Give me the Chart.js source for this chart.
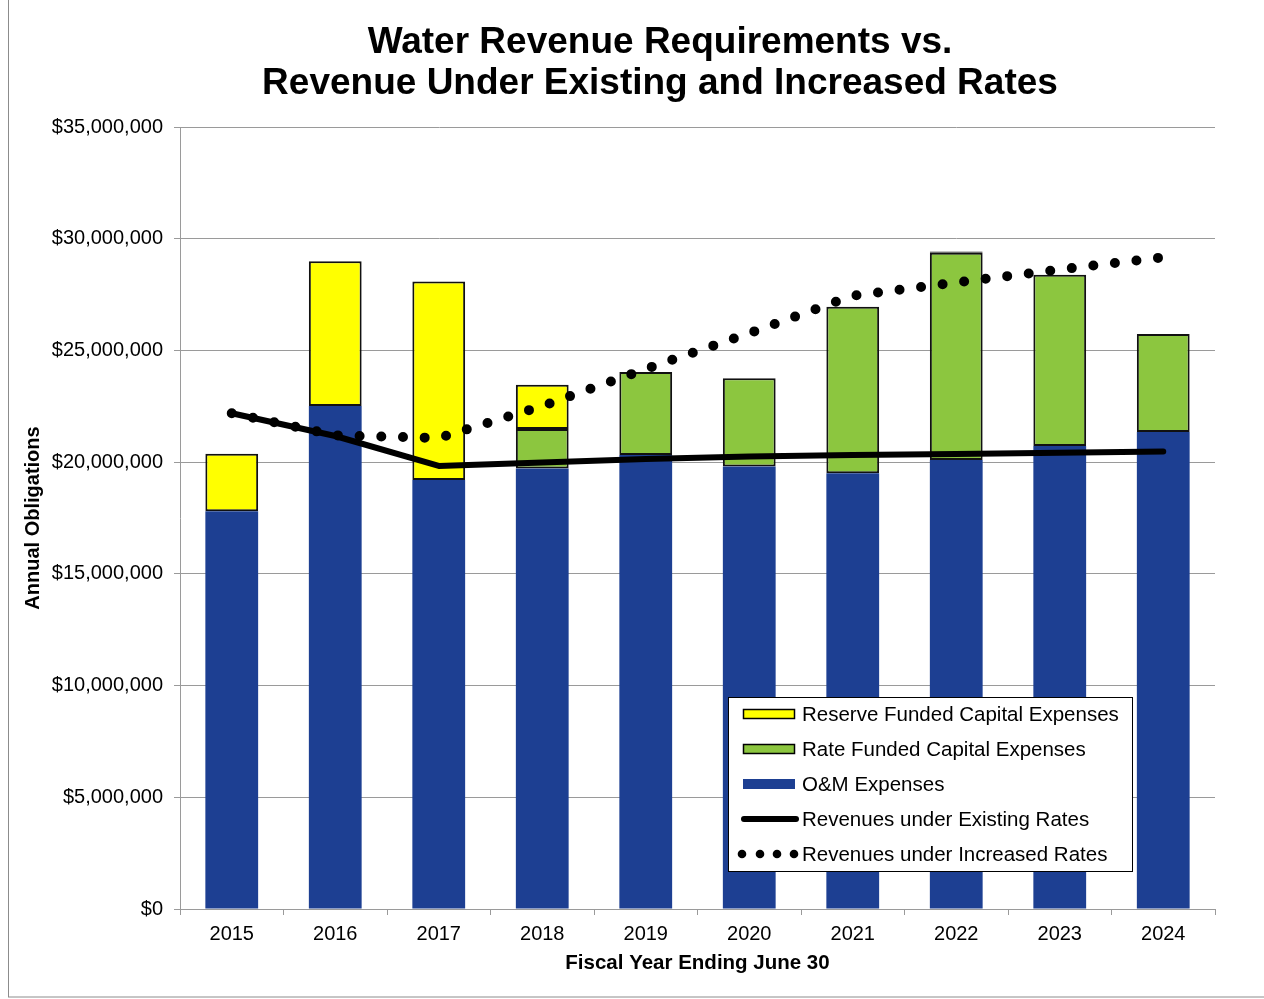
<!DOCTYPE html>
<html>
<head>
<meta charset="utf-8">
<script src="https://cdn.jsdelivr.net/npm/chart.js@4.4.1/dist/chart.umd.min.js"></script>
<style>
  body { margin: 0; background: #fff; }
  #wrap { position: relative; width: 1264px; height: 999px; }
</style>
</head>
<body>
<div id="wrap"><canvas id="chart" width="1264" height="999"></canvas></div>
<script>
// values (dollars)
const years = ['2015', '2016', '2017', '2018', '2019', '2020', '2021', '2022', '2023', '2024'];
const omExpenses = [17800000, 22510000, 19200000, 19720000, 20320000, 19800000, 19500000, 20100000, 20720000, 21350000];
const rateFunded = [null, null, null, 1760000, 3710000, 3950000, 7460000, 9270000, 7670000, 4380000];
const reserveFunded = [2580000, 6480000, 8880000, 1980000, null, null, null, 60000, null, null];
const revExisting = [22190000, 21170000, 19830000, 19980000, 20140000, 20250000, 20320000, 20370000, 20420000, 20480000];
const revIncreased = [22190000, 21200000, 21080000, 22510000, 24170000, 25770000, 27450000, 28040000, 28620000, 29170000];
const yTicks = [0, 5000000, 10000000, 15000000, 20000000, 25000000, 30000000, 35000000];

const BLUE = '#1d3f92';
const GREEN = '#8cc63f';
const YELLOW = '#ffff00';
const GRID = '#9a9a9a';
const FONT = 'Liberation Sans, Arial, sans-serif';

const money = v => '$' + v.toLocaleString('en-US');

// title, frame and legend drawn on the canvas
const decorations = {
  id: 'decorations',
  beforeDraw(chart) {
    const ctx = chart.ctx;
    ctx.save();
    ctx.strokeStyle = '#8c8c8c';
    ctx.lineWidth = 1;
    ctx.strokeRect(8.5, -5, 1300, 1002);
    ctx.fillStyle = '#000';
    ctx.font = 'bold 37px ' + FONT;
    ctx.textAlign = 'center';
    ctx.textBaseline = 'middle';
    ctx.fillText('Water Revenue Requirements vs.', 660, 43);
    ctx.fillText('Revenue Under Existing and Increased Rates', 660, 84);
    ctx.restore();
  },
  afterDraw(chart) {
    const ctx = chart.ctx;
    const ds = chart.data.datasets;
    const rows = [ds[2], ds[1], ds[0], ds[3], ds[4]];
    const x0 = 728.5, y0 = 697.5, w = 404, h = 174;
    ctx.save();
    ctx.fillStyle = '#fff';
    ctx.fillRect(x0, y0, w, h);
    ctx.strokeStyle = '#000';
    ctx.lineWidth = 1;
    ctx.strokeRect(x0, y0, w, h);
    ctx.font = '20.5px ' + FONT;
    ctx.textBaseline = 'middle';
    ctx.textAlign = 'left';
    rows.forEach((d, i) => {
      const y = 714 + i * 35;
      if (d.type === 'line') {
        ctx.strokeStyle = '#000';
        if (d.borderDash) {
          ctx.fillStyle = '#000';
          [742, 760, 777, 794].forEach(cx => {
            ctx.beginPath();
            ctx.arc(cx, y, 4.3, 0, Math.PI * 2);
            ctx.fill();
          });
        } else {
          ctx.lineWidth = 6;
          ctx.lineCap = 'round';
          ctx.beginPath();
          ctx.moveTo(744, y);
          ctx.lineTo(796, y);
          ctx.stroke();
        }
      } else {
        ctx.fillStyle = d.backgroundColor;
        ctx.fillRect(743, y - 5, 52, 10);
        if (d.borderWidth) {
          ctx.strokeStyle = '#000';
          ctx.lineWidth = 1.5;
          ctx.strokeRect(743.5, y - 4.5, 51, 9);
        }
      }
      ctx.fillStyle = '#000';
      ctx.fillText(d.label, 802, y + 1);
    });
    ctx.restore();
  }
};

new Chart(document.getElementById('chart'), {
  type: 'bar',
  data: {
    labels: years,
    datasets: [
      { label: 'O&M Expenses', data: omExpenses, backgroundColor: BLUE, borderWidth: 0, stack: 'req', order: 1 },
      { label: 'Rate Funded Capital Expenses', data: rateFunded, backgroundColor: GREEN, borderColor: '#111', borderWidth: 2, borderSkipped: false, stack: 'req', order: 1 },
      { label: 'Reserve Funded Capital Expenses', data: reserveFunded, backgroundColor: YELLOW, borderColor: '#111', borderWidth: 2, borderSkipped: false, stack: 'req', order: 1 },
      { type: 'line', label: 'Revenues under Existing Rates', data: revExisting, borderColor: '#000', borderWidth: 6, borderCapStyle: 'round', borderJoinStyle: 'round', pointRadius: 0, tension: 0, stack: 'existing', order: 0 },
      { type: 'line', label: 'Revenues under Increased Rates', data: revIncreased, borderColor: '#000', borderWidth: 10, borderDash: [0, 21.7], borderCapStyle: 'round', pointRadius: 0, tension: 0, stack: 'increased', order: 0 }
    ]
  },
  options: {
    responsive: false,
    animation: false,
    events: [],
    layout: { padding: { left: 0, right: 49, top: 127, bottom: 23 } },
    datasets: { bar: { categoryPercentage: 1, barPercentage: 0.51 } },
    plugins: { legend: { display: false }, title: { display: false }, tooltip: { enabled: false } },
    scales: {
      x: {
        stacked: true,
        grid: { display: true, drawOnChartArea: false, drawTicks: true, tickLength: 6, color: GRID, offset: true },
        border: { color: GRID },
        ticks: { color: '#000', font: { family: FONT, size: 20 }, padding: 7, maxRotation: 0 },
        title: { display: true, text: 'Fiscal Year Ending June 30', color: '#000', font: { family: FONT, size: 20.5, weight: 'bold' }, padding: { top: 2, bottom: 0 } },
        afterFit(scale) { scale.height = 67; scale.paddingLeft = 0; scale.paddingRight = 0; }
      },
      y: {
        stacked: true,
        min: 0,
        max: 35000000,
        afterBuildTicks(scale) { scale.ticks = yTicks.map(v => ({ value: v })); },
        grid: { color: GRID, tickLength: 6 },
        border: { color: GRID },
        ticks: { color: '#000', font: { family: FONT, size: 20 }, padding: 11, callback: v => money(v) },
        title: { display: true, text: 'Annual Obligations', color: '#000', font: { family: FONT, size: 20, weight: 'bold' }, padding: { top: 21, bottom: 0 } },
        afterFit(scale) { scale.width = 180; scale.paddingTop = 0; scale.paddingBottom = 0; }
      }
    }
  },
  plugins: [decorations]
});
</script>
</body>
</html>
